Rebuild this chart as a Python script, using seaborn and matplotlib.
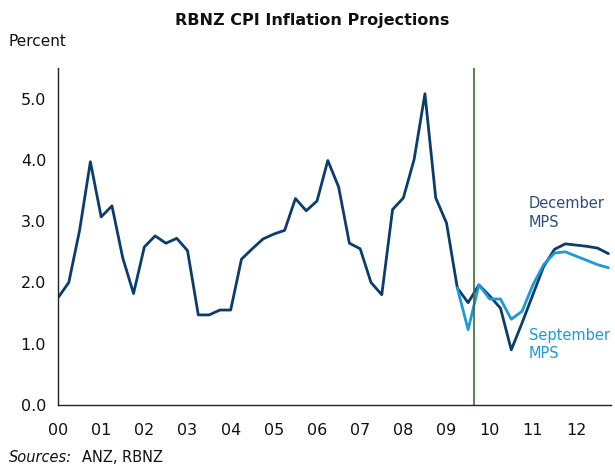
import numpy as np
import pandas as pd
import matplotlib
matplotlib.use("Agg")
import matplotlib.pyplot as plt
import seaborn as sns

# Quarterly values (x = years since 2000)
dec_values = [1.75, 2.0, 2.85, 3.97, 3.07, 3.25, 2.40, 1.82, 2.58, 2.76, 2.64, 2.72,
              2.52, 1.47, 1.47, 1.55, 1.55, 2.38, 2.55, 2.71, 2.79, 2.85, 3.37, 3.17,
              3.33, 3.99, 3.56, 2.64, 2.55, 2.0, 1.80, 3.19, 3.38, 4.01, 5.08, 3.38,
              2.97, 1.91, 1.67, 1.96, 1.78, 1.58, 0.90, 1.34, 1.80, 2.26, 2.54, 2.63,
              2.61, 2.59, 2.56, 2.47]
sep_values = [1.91, 1.23, 1.96, 1.73, 1.73, 1.40, 1.53, 1.96, 2.29, 2.48, 2.50,
              2.43, 2.36, 2.29, 2.24]
sep_start_q = 37
year_labels = ["00", "01", "02", "03", "04", "05", "06", "07", "08", "09", "10", "11", "12"]
y_ticks = [0.0, 1.0, 2.0, 3.0, 4.0, 5.0]
cutoff_year = 9.625

dec_df = pd.DataFrame({"year": np.arange(len(dec_values)) * 0.25, "value": dec_values})
sep_df = pd.DataFrame({"year": (sep_start_q + np.arange(len(sep_values))) * 0.25, "value": sep_values})

sns.set_style("white")
plt.rcParams["font.family"] = ["DejaVu Sans"]

fig = plt.figure(figsize=(6.15, 4.66), dpi=100)
ax = fig.add_axes([58 / 615, 61 / 466, (611 - 58) / 615, (405 - 68) / 466])

dark = "#0A3D6E"
light = "#1B9AD7"
sns.lineplot(data=dec_df, x="year", y="value", ax=ax, color=dark, lw=2.0)
sns.lineplot(data=sep_df, x="year", y="value", ax=ax, color=light, lw=2.0)
ax.axvline(cutoff_year, color="#3E6B3A", lw=1.2)

ax.set_xlim(0, 12.81)
ax.set_ylim(0, 5.5)
ax.set_xticks(range(len(year_labels)))
ax.set_xticklabels(year_labels)
ax.set_yticks(y_ticks)
ax.set_yticklabels([f"{v:.1f}" for v in y_ticks])
ax.set_xlabel("")
ax.set_ylabel("")
for s in ["top", "right"]:
    ax.spines[s].set_visible(False)
for s in ["left", "bottom"]:
    ax.spines[s].set_color("#222222")
    ax.spines[s].set_linewidth(1.0)
ax.tick_params(axis="both", direction="out", length=5, width=1, color="#222222",
               labelsize=11.5, labelcolor="#111111")
ax.tick_params(axis="x", pad=8)

ax.text(10.9, 3.13, "December\nMPS", color="#2A4C7D", fontsize=10.5, ha="left", va="center",
        linespacing=1.3)
ax.text(10.9, 0.99, "September\nMPS", color=light, fontsize=10.5, ha="left", va="center",
        linespacing=1.3)

fig.text(312 / 615, 1 - 20 / 466, "RBNZ CPI Inflation Projections", ha="center", va="center",
         fontsize=11.5, fontweight="bold", color="#111111")
fig.text(8 / 615, 1 - 42 / 466, "Percent", ha="left", va="center", fontsize=11, color="#111111")
fig.text(9 / 615, 1 - 458 / 466, "Sources:", ha="left", va="center", fontsize=10.5,
         style="italic", color="#111111")
fig.text(82 / 615, 1 - 458 / 466, "ANZ, RBNZ", ha="left", va="center", fontsize=10.5,
         color="#111111")

fig.savefig("out.png", dpi=100)
